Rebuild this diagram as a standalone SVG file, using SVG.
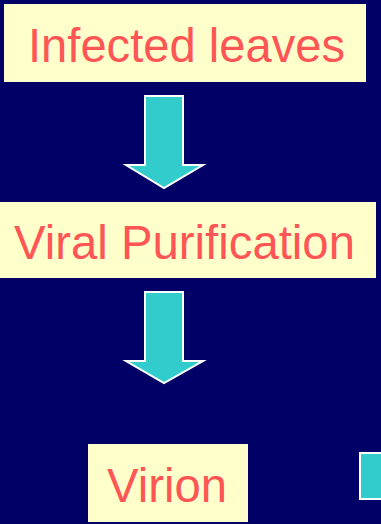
<svg xmlns="http://www.w3.org/2000/svg" width="381" height="524" viewBox="0 0 381 524">
<style>
.box{fill:#FFFFCC}
.lbl{font-family:"Liberation Sans",Arial,sans-serif;font-size:48px;fill:#FF5555;text-anchor:middle}
.arr{fill:#33CCCC;stroke:#FFFFFF;stroke-width:2}
</style>
<rect width="381" height="524" fill="#000066"/>
<g id="infected-leaves">
<rect class="box" x="4" y="4" width="362" height="78"/>
<text class="lbl" x="186.5" y="62" textLength="317" lengthAdjust="spacingAndGlyphs">Infected leaves</text>
</g>
<g id="viral-purification">
<rect class="box" x="0" y="202" width="376" height="76"/>
<text class="lbl" x="184.5" y="259" textLength="341" lengthAdjust="spacingAndGlyphs">Viral Purification</text>
</g>
<g id="virion">
<rect class="box" x="88" y="444" width="160" height="78"/>
<text class="lbl" x="167" y="502" textLength="120" lengthAdjust="spacingAndGlyphs">Virion</text>
</g>
<g id="partial-node">
<rect class="arr" x="360" y="453" width="24" height="46"/>
</g>
<g id="connectors">
<polygon class="arr" points="145,96 183,96 183,165 203,165 164,188 126,165 145,165"/>
<polygon class="arr" points="145,292 183,292 183,361 203,361 164,383 126,361 145,361"/>
</g>
</svg>
